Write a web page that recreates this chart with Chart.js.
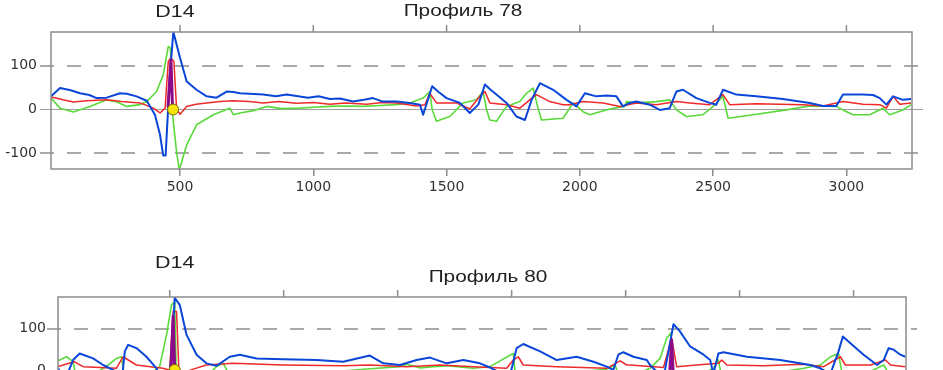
<!DOCTYPE html>
<html lang="ru">
<head>
<meta charset="UTF-8">
<title>D14 — Профиль 78 / Профиль 80</title>
<style>
  html, body { margin: 0; padding: 0; background: #fff; }
  body { width: 943px; height: 370px; overflow: hidden; position: relative; }
  canvas { position: absolute; left: 0; }
  #p78 { top: 0; }
  #p80 { top: 240px; }
</style>
</head>
<body>
<canvas id="p78" width="943" height="200"></canvas>
<canvas id="p80" width="943" height="217"></canvas>
<script src="https://cdn.jsdelivr.net/npm/chart.js"></script>
<script>
// ---- Профиль 78 ----
const p78BlueX = [16, 50, 90, 125, 160, 187, 225, 275, 300, 337, 375, 406, 425, 437, 446, 462, 475, 500, 525, 562, 600, 637, 675, 700, 725, 760, 812, 860, 900, 937, 980, 1020, 1062, 1100, 1149, 1190, 1224, 1260, 1312, 1362, 1400, 1412, 1446, 1470, 1500, 1550, 1587, 1619, 1644, 1665, 1687, 1725, 1762, 1794, 1819, 1850, 1900, 1950, 1987, 2019, 2062, 2100, 2137, 2162, 2187, 2212, 2262, 2300, 2337, 2362, 2387, 2437, 2487, 2512, 2537, 2587, 2662, 2762, 2862, 2912, 2962, 2987, 3062, 3100, 3125, 3150, 3175, 3212, 3243];
const p78BlueY = [30, 49, 44, 37, 33, 26, 27, 37, 36, 30, 20, -12, -58, -105, -105, 79, 177, 118, 64, 45, 30, 27, 41, 40, 37, 36, 34, 30, 34, 31, 27, 30, 24, 25, 18, 22, 26, 18, 18, 15, 11, -12, 53, 40, 26, 15, -8, 11, 57, 45, 34, 15, -16, -24, 22, 60, 45, 22, 7, 37, 30, 32, 30, 7, 15, 18, 11, -1, 3, 41, 45, 26, 15, 11, 45, 34, 30, 24, 15, 8, 8, 34, 34, 33, 26, 11, 30, 22, 24];

const p78RedX = [16, 31, 60, 100, 150, 225, 280, 350, 400, 425, 444, 456, 465, 477, 487, 500, 525, 560, 600, 650, 700, 760, 812, 870, 937, 1000, 1062, 1120, 1200, 1260, 1312, 1387, 1419, 1437, 1462, 1537, 1587, 1625, 1644, 1662, 1725, 1775, 1812, 1837, 1887, 1937, 1962, 2012, 2087, 2150, 2212, 2287, 2362, 2412, 2487, 2537, 2562, 2662, 2750, 2837, 2912, 2987, 3062, 3125, 3150, 3175, 3200, 3243];
const p78RedY = [28, 27, 22, 17, 20, 22, 18, 15, 3, -8, 3, 110, 118, 110, 3, -11, 7, 12, 15, 18, 20, 18, 15, 18, 14, 16, 12, 15, 12, 16, 15, 8, 11, 37, 15, 15, 1, 30, 41, 15, 11, 3, 22, 34, 18, 11, 11, 18, 15, 7, 15, 11, 18, 15, 11, 34, 11, 13, 12, 11, 8, 18, 12, 11, 3, 30, 12, 15];

const p78GreenX = [16, 50, 100, 162, 225, 260, 300, 350, 375, 412, 437, 456, 464, 472, 487, 497, 525, 562, 625, 687, 700, 725, 780, 825, 880, 950, 1000, 1062, 1120, 1187, 1250, 1312, 1362, 1412, 1437, 1446, 1462, 1512, 1562, 1612, 1637, 1650, 1662, 1687, 1725, 1775, 1800, 1825, 1840, 1856, 1937, 1975, 2012, 2037, 2112, 2168, 2175, 2212, 2287, 2337, 2362, 2400, 2462, 2500, 2537, 2556, 2650, 2775, 2862, 2962, 2987, 3025, 3087, 3137, 3162, 3212, 3243];
const p78GreenY = [26, 3, -6, 7, 22, 18, 7, 11, 18, 41, 79, 144, 140, -12, -96, -138, -81, -35, -12, 3, -12, -8, -2, 7, 2, 3, 5, 7, 8, 7, 9, 11, 15, 26, 41, 0, -27, -16, 15, 22, 41, 0, -24, -27, 7, 18, 37, 49, 10, -24, -20, 15, -5, -12, 1, 7, 18, 15, 18, 22, -1, -16, -12, 7, 30, -20, -12, -1, 8, 7, -1, -12, -12, 3, -12, -1, 11];

const p78PurpleX = [455, 466, 472];
const p78PurpleY = [5, 112, 5];

const p78MarkX = [474];
const p78MarkY = [0];

// ---- Профиль 80 ----
const p80BlueX = [10, 40, 76, 105, 164, 208, 266, 290, 303, 318, 354, 398, 442, 470, 500, 522, 544, 574, 618, 661, 705, 764, 808, 881, 998, 1144, 1261, 1378, 1437, 1510, 1583, 1642, 1715, 1788, 1861, 1905, 1990, 2022, 2051, 2125, 2198, 2285, 2359, 2417, 2446, 2468, 2490, 2534, 2593, 2607, 2666, 2688, 2710, 2739, 2783, 2842, 2871, 2885, 2907, 2929, 3032, 3178, 3310, 3354, 3398, 3434, 3453, 3486, 3544, 3603, 3632, 3654, 3676, 3705, 3727];
const p80BlueY = [4, -25, 24, 40, 28, 12, -4, -25, 45, 61, 53, 32, 4, -30, -20, 175, 158, 85, 37, 16, 10, 32, 37, 28, 26, 24, 20, 35, 16, 12, 24, 30, 16, 24, 16, 6, -20, 53, 63, 45, 24, 32, 20, 8, 0, 37, 43, 32, 24, 12, -20, 45, 111, 93, 57, 37, 24, -10, 40, 43, 32, 24, 12, 4, -10, 45, 81, 65, 37, 12, 24, 53, 49, 37, 32];

const p80RedX = [10, 81, 120, 266, 295, 354, 470, 500, 515, 530, 541, 603, 661, 778, 998, 1261, 1378, 1539, 1686, 1832, 1978, 2007, 2029, 2051, 2198, 2417, 2476, 2505, 2520, 2666, 2702, 2724, 2812, 2907, 2922, 2944, 3105, 3281, 3369, 3442, 3464, 3574, 3640, 3662, 3727];
const p80RedY = [8, 20, 8, 4, 32, 12, 4, 0, 142, 142, -10, 2, 12, 16, 12, 10, 12, 8, 12, 8, 4, 24, 32, 12, 8, 4, 22, 12, 12, 6, 77, 8, 12, 16, 24, 12, 10, 14, 8, 32, 12, 12, 24, 12, 8];

const p80GreenX = [10, 47, 76, 90, 150, 222, 266, 288, 303, 380, 456, 486, 508, 522, 530, 600, 705, 735, 760, 880, 1000, 1200, 1380, 1510, 1539, 1600, 1656, 1715, 1832, 1905, 1949, 2007, 2022, 2100, 2300, 2417, 2454, 2476, 2550, 2607, 2651, 2680, 2698, 2710, 2800, 2885, 2907, 2922, 3100, 3281, 3354, 3398, 3434, 3456, 3550, 3603, 3632, 3662, 3727];
const p80GreenY = [22, 32, 20, -20, -15, 8, 28, 32, -20, -25, 8, 85, 158, 166, -40, -50, 8, 16, -10, -8, -6, -5, 3, 8, 14, 5, 8, 10, 4, 8, 22, 40, -40, -20, -5, 2, 12, -25, -10, 4, 28, 77, 89, -60, -20, 4, 24, -20, -12, 4, 12, 32, 40, -30, -10, 4, 12, -15, -5];

const p80PurpleX = [506, 515, 522, 600, 2694, 2702, 2708];
const p80PurpleY = [0, 130, 0, null, 0, 72, 0];

const p80MarkX = [522];
const p80MarkY = [0];

const xTickValues = [500, 1000, 1500, 2000, 2500, 3000, 3500];
const yTickValues = [-100, 0, 100];

const pts = (xs, ys) => xs.map((v, i) => ({ x: v, y: ys[i] }));

function stretchedText(ctx, text, cx, cy, size, sx) {
  ctx.save();
  ctx.translate(cx, cy);
  ctx.scale(sx, 1);
  ctx.font = size + 'px "Liberation Sans", Arial, sans-serif';
  ctx.textAlign = 'center';
  ctx.textBaseline = 'middle';
  ctx.fillStyle = '#222';
  ctx.fillText(text, 0, 0);
  ctx.restore();
}

const razmetka = {
  id: 'razmetka',
  beforeDatasetsDraw(chart, args, o) {
    const { ctx, chartArea: a, scales: { y } } = chart;
    ctx.save();
    ctx.strokeStyle = '#a9a9a9';
    ctx.lineWidth = 2;
    ctx.setLineDash([14, 13]);
    for (const v of [100, -100]) {
      const py = Math.round(y.getPixelForValue(v));
      ctx.beginPath();
      ctx.moveTo(a.left - o.ext, py);
      ctx.lineTo(a.right + o.ext, py);
      ctx.stroke();
    }
    ctx.setLineDash([]);
    ctx.lineWidth = 1;
    ctx.strokeStyle = '#a0a0a0';
    const pz = Math.round(y.getPixelForValue(0)) + 0.5;
    ctx.beginPath();
    ctx.moveTo(a.left - o.ext, pz);
    ctx.lineTo(a.right + o.ext, pz);
    ctx.stroke();
    ctx.restore();
  },
  afterDatasetsDraw(chart, args, o) {
    const { ctx, chartArea: a, scales: { x } } = chart;
    ctx.save();
    ctx.strokeStyle = '#8c8c8c';
    ctx.lineWidth = 1.5;
    ctx.strokeRect(a.left, a.top, a.right - a.left, a.bottom - a.top);
    // метки сверху
    for (const v of xTickValues) {
      if (v >= x.max) continue;
      const px = x.getPixelForValue(v);
      ctx.beginPath();
      ctx.moveTo(px, a.top);
      ctx.lineTo(px, a.top - 7);
      ctx.stroke();
    }
    ctx.restore();
    stretchedText(ctx, o.label, x.getPixelForValue(o.labelAt), o.labelY, 16.5, 1.3);
    stretchedText(ctx, o.title, o.titleX, o.titleY, 16, 1.3);
  }
};

function makeChart(id, cfg) {
  const line = (data, color, width) => ({
    data, borderColor: color, borderWidth: width, pointRadius: 0,
    tension: 0, fill: false, spanGaps: false, borderJoinStyle: 'round'
  });
  return new Chart(document.getElementById(id), {
    type: 'line',
    data: {
      datasets: [
        {
          data: cfg.mark, showLine: false, pointRadius: 5.5,
          pointBackgroundColor: '#f4e40c', pointBorderColor: '#7a6a00', pointBorderWidth: 1
        },
        line(cfg.purple, '#8a0a8a', 3),
        line(cfg.blue, '#0a46d8', 2),
        line(cfg.red, '#ee2a2a', 1.5),
        line(cfg.green, '#5ada3a', 1.6)
      ]
    },
    options: {
      responsive: false,
      animation: false,
      events: [],
      layout: { padding: { top: cfg.padTop, right: cfg.padRight, left: 0, bottom: 0 } },
      plugins: {
        legend: { display: false },
        tooltip: { enabled: false },
        razmetka: {
          ext: 11, label: 'D14', labelAt: cfg.labelAt, labelY: cfg.labelY,
          title: cfg.title, titleX: cfg.titleX, titleY: cfg.titleY
        }
      },
      scales: {
        x: {
          type: 'linear', min: cfg.xMin, max: cfg.xMax,
          afterBuildTicks: s => { s.ticks = xTickValues.filter(v => v < s.max).map(v => ({ value: v })); },
          afterFit: s => { s.height = 31; },
          border: { display: false },
          grid: { drawOnChartArea: false, drawTicks: true, tickLength: 7, color: '#8c8c8c', lineWidth: 1.5 },
          ticks: {
            maxRotation: 0, autoSkip: false,
            padding: 3, color: '#333', font: { family: 'DejaVu Sans', size: 14 },
            callback: v => String(v)
          }
        },
        y: {
          min: -136, max: 177,
          afterBuildTicks: s => { s.ticks = yTickValues.map(v => ({ value: v })); },
          afterFit: s => { s.width = cfg.leftW; },
          border: { display: false },
          grid: { display: false, drawTicks: false },
          ticks: {
            padding: cfg.yPad,
            color: '#333', font: { family: 'DejaVu Sans', size: 14 },
            callback: v => String(v)
          }
        }
      }
    },
    plugins: [razmetka]
  });
}

makeChart('p78', {
  blue: pts(p78BlueX, p78BlueY), red: pts(p78RedX, p78RedY), green: pts(p78GreenX, p78GreenY),
  purple: pts(p78PurpleX, p78PurpleY), mark: pts(p78MarkX, p78MarkY),
  xMin: 16, xMax: 3246, leftW: 51, padTop: 32, padRight: 31, yPad: 14,
  labelAt: 481, labelY: 12, title: 'Профиль 78', titleX: 463, titleY: 12
});

makeChart('p80', {
  blue: pts(p80BlueX, p80BlueY), red: pts(p80RedX, p80RedY), green: pts(p80GreenX, p80GreenY),
  purple: pts(p80PurpleX, p80PurpleY), mark: pts(p80MarkX, p80MarkY),
  xMin: 10, xMax: 3730, leftW: 58, padTop: 57, padRight: 37, yPad: 12,
  labelAt: 522, labelY: 23, title: 'Профиль 80', titleX: 488, titleY: 38
});
</script>
</body>
</html>
